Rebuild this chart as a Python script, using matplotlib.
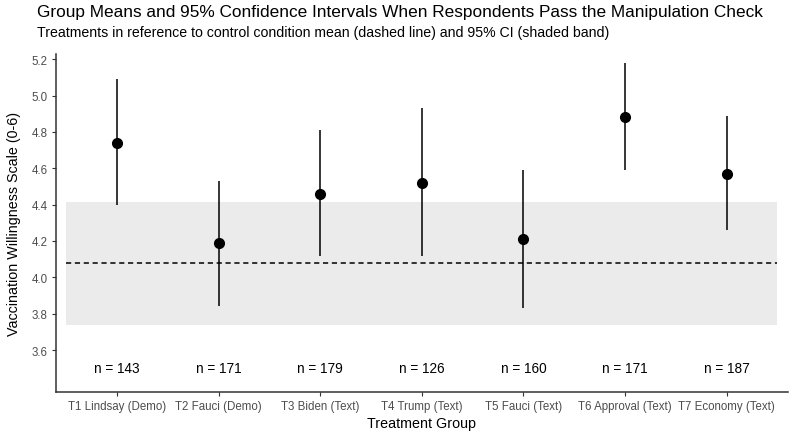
import matplotlib
matplotlib.use('Agg')
import matplotlib.pyplot as plt

plt.rcParams['font.family'] = ['Liberation Sans', 'DejaVu Sans']

# Data
groups = ['T1 Lindsay (Demo)', 'T2 Fauci (Demo)', 'T3 Biden (Text)', 'T4 Trump (Text)',
          'T5 Fauci (Text)', 'T6 Approval (Text)', 'T7 Economy (Text)']
means = [4.74, 4.19, 4.46, 4.52, 4.21, 4.88, 4.57]
ci_low = [4.40, 3.84, 4.12, 4.12, 3.83, 4.59, 4.26]
ci_high = [5.09, 4.53, 4.81, 4.93, 4.59, 5.18, 4.89]
n_obs = [143, 171, 179, 126, 160, 171, 187]

control_mean = 4.08
control_low = 3.74
control_high = 4.415

x = list(range(1, len(groups) + 1))

fig = plt.figure(figsize=(7.9, 4.35), dpi=100)
ax = fig.add_axes([0.071, 0.097, 0.926, 0.777])

# control condition band and mean
ax.fill_between([0.5, 7.5], control_low, control_high, color='#ebebeb', linewidth=0, zorder=0)
ax.hlines(control_mean, 0.5, 7.5, color='black', linestyles=[(0, (3.4, 2.4))], linewidth=1.1, zorder=1)

# treatment means with 95% CI
ax.vlines(x, ci_low, ci_high, color='black', linewidth=1.1, zorder=2)
ax.plot(x, means, 'o', color='black', markersize=7, zorder=3)

for xi, n in zip(x, n_obs):
    ax.text(xi, 3.5, f'n = {n}', ha='center', va='center', fontsize=9.8, color='black')

ax.set_xlim(0.4, 7.6)
ax.set_ylim(3.37, 5.23)
ax.set_xticks(x)
ax.set_xticklabels(groups, fontsize=8.3, color='#4d4d4d')
ax.set_yticks([3.6, 3.8, 4.0, 4.2, 4.4, 4.6, 4.8, 5.0, 5.2])
ax.set_yticklabels(['3.6', '3.8', '4.0', '4.2', '4.4', '4.6', '4.8', '5.0', '5.2'],
                   fontsize=8.3, color='#4d4d4d')
ax.tick_params(axis='both', length=3, color='#333333', width=0.8, pad=3)

for side in ['top', 'right']:
    ax.spines[side].set_visible(False)
for side in ['left', 'bottom']:
    ax.spines[side].set_color('#333333')
    ax.spines[side].set_linewidth(1.1)

ax.set_xlabel('Treatment Group', fontsize=10.3, labelpad=3)
ax.set_ylabel('Vaccination Willingness Scale (0-6)', fontsize=10.3, labelpad=8)

fig.text(37 / 790, 1 - 12 / 435, 'Group Means and 95% Confidence Intervals When Respondents Pass the Manipulation Check',
         fontsize=12.4, ha='left', va='center')
fig.text(37 / 790, 1 - 33 / 435, 'Treatments in reference to control condition mean (dashed line) and 95% CI (shaded band)',
         fontsize=10.2, ha='left', va='center')

plt.savefig('out.png', dpi=100)
plt.close()
